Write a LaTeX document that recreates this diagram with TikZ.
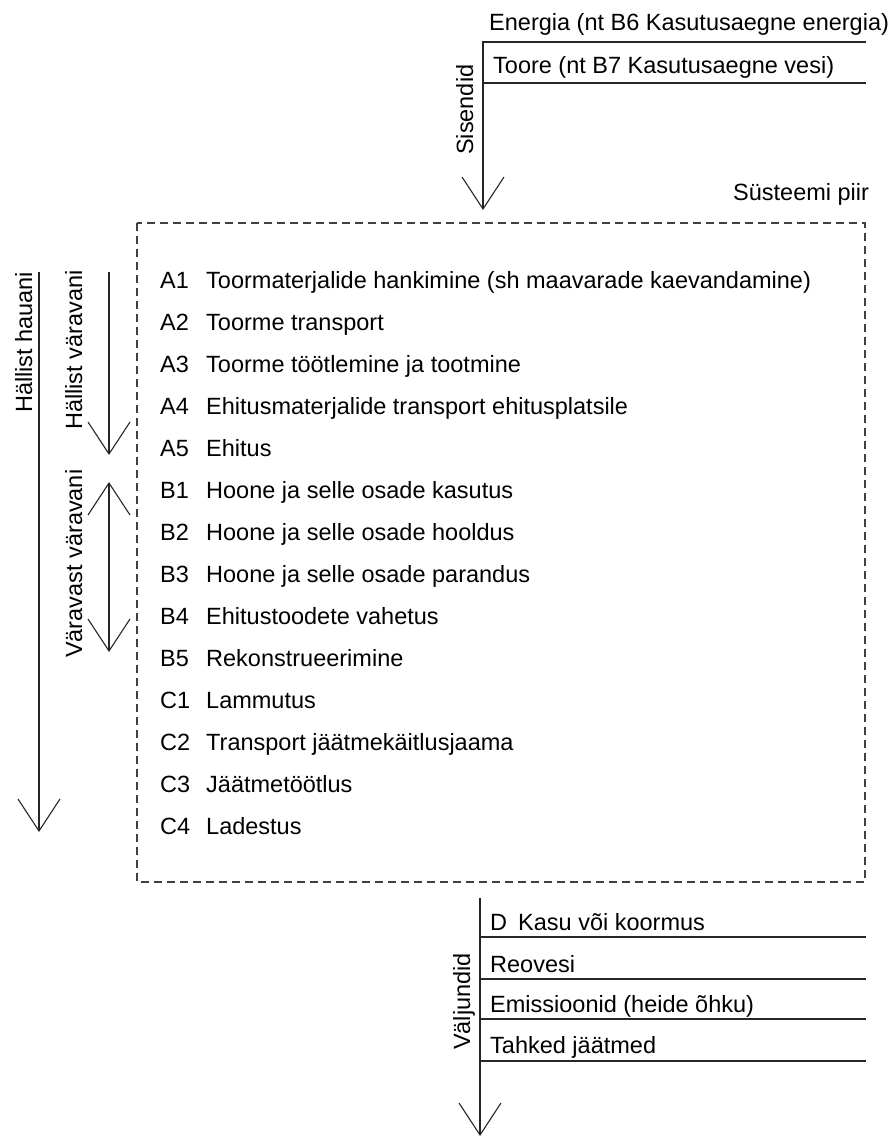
\documentclass[tikz,border=0pt]{standalone}
\usepackage{fontspec}
\setmainfont{Liberation Sans}
\usetikzlibrary{arrows.meta}
\begin{document}
\begin{tikzpicture}[x=1pt,y=1pt,
  txt/.style={anchor=base west,inner sep=0pt,font=\fontsize{23.5}{28}\selectfont},
  vtxt/.style={txt,rotate=90},
  ln/.style={line width=1.1pt,draw=black!85},
  arr/.style={ln,-{Straight Barb[length=32pt,width=42pt,line width=1.1pt]}},
  darr/.style={ln,{Straight Barb[length=32pt,width=42pt,line width=1.1pt]}-{Straight Barb[length=32pt,width=42pt,line width=1.1pt]}},
  boxline/.style={line width=1.1pt,draw=black!75,dash pattern=on 8pt off 5pt}]
\useasboundingbox (0,0) rectangle (891,-1138);

% system boundary
\draw[boxline] (137,-223) rectangle (865,-882);
\node[txt] (piir) at (733,-200) {Süsteemi piir};

% inputs
\coordinate (inTop) at (483,-41);
\coordinate (inTip) at (483,-210);
\coordinate (l1a) at (483,-42);  \coordinate (l1b) at (866,-42);
\coordinate (l2a) at (483,-83);  \coordinate (l2b) at (866,-83);
\draw[arr] (inTop) -- (inTip);
\draw[ln] (l1a) -- (l1b);
\draw[ln] (l2a) -- (l2b);
\node[txt] (energia) at (489,-30) {Energia (nt B6 Kasutusaegne energia)};
\node[txt] (toore) at (493,-73) {Toore (nt B7 Kasutusaegne vesi)};
\node[vtxt] (sis) at (473,-155) {Sisendid};

% left arrows
\coordinate (hhTop) at (39,-272);
\coordinate (hhTip) at (39,-832);
\draw[arr] (hhTop) -- (hhTip);
\node[vtxt] (hh) at (32,-413) {Hällist hauani};
\coordinate (hvTop) at (109,-272);
\coordinate (hvTip) at (109,-455);
\draw[arr] (hvTop) -- (hvTip);
\node[vtxt] (hv) at (82,-430) {Hällist väravani};
\coordinate (vvTop) at (109,-482);
\coordinate (vvTip) at (109,-652);
\draw[darr] (vvTop) -- (vvTip);
\node[vtxt] (vv) at (82,-658) {Väravast väravani};

% stages
\foreach \c/\t [count=\i from 0] in {
  A1/Toormaterjalide hankimine (sh maavarade kaevandamine),
  A2/Toorme transport,
  A3/Toorme töötlemine ja tootmine,
  A4/Ehitusmaterjalide transport ehitusplatsile,
  A5/Ehitus,
  B1/Hoone ja selle osade kasutus,
  B2/Hoone ja selle osade hooldus,
  B3/Hoone ja selle osade parandus,
  B4/Ehitustoodete vahetus,
  B5/Rekonstrueerimine,
  C1/Lammutus,
  C2/Transport jäätmekäitlusjaama,
  C3/Jäätmetöötlus,
  C4/Ladestus}{
  \node[txt] (code\c) at (160,{-288-42*\i}) {\c};
  \node[txt] (text\c) at (206,{-288-42*\i}) {\t};
}

% outputs
\coordinate (outTop) at (480,-898);
\coordinate (outTip) at (480,-1136);
\draw[arr] (outTop) -- (outTip);
\foreach \y [count=\k] in {937,979,1019,1061}{
  \coordinate (o\k a) at (480,-\y);
  \coordinate (o\k b) at (866,-\y);
  \draw[ln] (o\k a) -- (o\k b);
}
\node[txt] (dD) at (490,-930) {D};
\node[txt] (kasu) at (518,-930) {Kasu või koormus};
\node[txt] (reo) at (490,-972) {Reovesi};
\node[txt] (emi) at (490,-1012) {Emissioonid (heide õhku)};
\node[txt] (tah) at (490,-1053) {Tahked jäätmed};
\node[vtxt] (valj) at (470,-1050) {Väljundid};
\end{tikzpicture}
\end{document}
